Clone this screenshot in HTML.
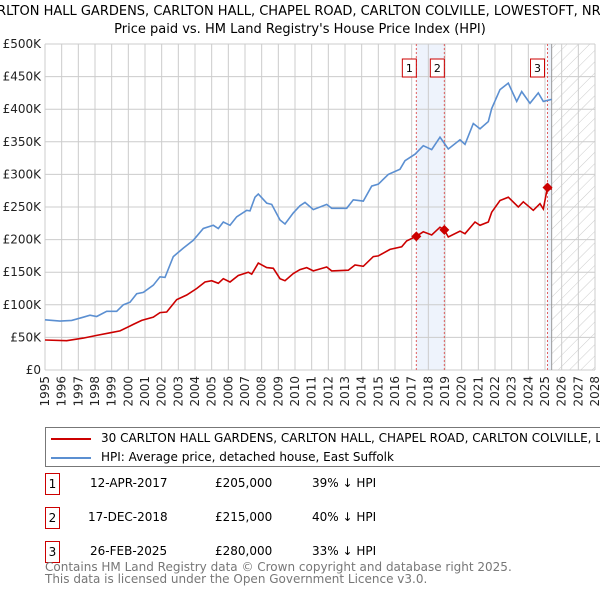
<!DOCTYPE html>
<html><head><meta charset="utf-8"><style>
body{margin:0;background:#fff;font-family:"Liberation Sans","DejaVu Sans",sans-serif;}
#wrap{position:relative;width:600px;height:590px;overflow:hidden;}
.t div{white-space:nowrap;}
</style></head><body>
<div id="wrap">
<svg id="svg" width="600" height="590" xmlns="http://www.w3.org/2000/svg" font-family="DejaVu Sans, sans-serif">
<text x="300" y="15" text-anchor="middle" font-size="13" fill="#000">30, CARLTON HALL GARDENS, CARLTON HALL, CHAPEL ROAD, CARLTON COLVILLE, LOWESTOFT, NR33 8BL</text>
<text x="300" y="33" text-anchor="middle" font-size="13" fill="#000">Price paid vs. HM Land Registry's House Price Index (HPI)</text>
<g id="grid"></g><g id="marks"></g><g id="axes"></g>
</svg>
<div style="position:absolute;left:45px;top:427px;width:560px;height:40px;border:1px solid #777;box-sizing:border-box;font-size:12px;font-family:'DejaVu Sans',sans-serif;overflow:hidden;">
 <div style="position:absolute;left:5px;top:3px;white-space:nowrap;"><span style="display:inline-block;width:40px;height:2px;background:#cc0000;vertical-align:middle;margin-right:10px"></span>30 CARLTON HALL GARDENS, CARLTON HALL, CHAPEL ROAD, CARLTON COLVILLE, LOWESTOFT, NR33 8BL</div>
 <div style="position:absolute;left:5px;top:22px;white-space:nowrap;"><span style="display:inline-block;width:40px;height:2px;background:#5b8fd1;vertical-align:middle;margin-right:10px"></span>HPI: Average price, detached house, East Suffolk</div>
</div>
<div class="t" style="position:absolute;left:0;top:0;font-size:12px;font-family:'DejaVu Sans',sans-serif;">
 <div>
  <div style="position:absolute;left:45px;top:473px;width:13px;height:20px;border:1px solid #cc0000;text-align:center;line-height:20px">1</div>
  <div style="position:absolute;left:90px;top:476px">12-APR-2017</div><div style="position:absolute;left:215px;top:476px">£205,000</div><div style="position:absolute;left:312px;top:476px">39% ↓ HPI</div>
 </div>
 <div>
  <div style="position:absolute;left:45px;top:507px;width:13px;height:20px;border:1px solid #cc0000;text-align:center;line-height:20px">2</div>
  <div style="position:absolute;left:88px;top:510px">17-DEC-2018</div><div style="position:absolute;left:215px;top:510px">£215,000</div><div style="position:absolute;left:312px;top:510px">40% ↓ HPI</div>
 </div>
 <div>
  <div style="position:absolute;left:45px;top:541px;width:13px;height:20px;border:1px solid #cc0000;text-align:center;line-height:20px">3</div>
  <div style="position:absolute;left:90px;top:544px">26-FEB-2025</div><div style="position:absolute;left:215px;top:544px">£280,000</div><div style="position:absolute;left:312px;top:544px">33% ↓ HPI</div>
 </div>
 <div style="position:absolute;left:45px;top:561px;color:#777;line-height:12px;white-space:nowrap">Contains HM Land Registry data © Crown copyright and database right 2025.<br>This data is licensed under the Open Government Licence v3.0.</div>
</div>
</div>
<script>
const yTicks=[0,50,100,150,200,250,300,350,400,450,500];
const yTickLabels=["£0","£50K","£100K","£150K","£200K","£250K","£300K","£350K","£400K","£450K","£500K"];
const xTicks=[1995,1996,1997,1998,1999,2000,2001,2002,2003,2004,2005,2006,2007,2008,2009,2010,2011,2012,2013,2014,2015,2016,2017,2018,2019,2020,2021,2022,2023,2024,2025,2026,2027,2028];
const hpiYears=[1995.0,1995.9,1996.6,1997.3,1997.7,1998.1,1998.7,1999.3,1999.7,2000.1,2000.5,2000.9,2001.5,2001.9,2002.2,2002.7,2003.3,2003.9,2004.5,2005.1,2005.4,2005.7,2006.1,2006.5,2007.1,2007.3,2007.6,2007.8,2008.3,2008.6,2009.1,2009.4,2009.9,2010.3,2010.6,2011.1,2011.9,2012.2,2013.1,2013.5,2014.1,2014.6,2015.0,2015.6,2016.3,2016.6,2017.2,2017.7,2018.2,2018.7,2019.2,2019.9,2020.2,2020.7,2021.1,2021.6,2021.8,2022.3,2022.8,2023.3,2023.6,2024.1,2024.6,2024.9,2025.4];
const hpiValues=[77,75,76,81,84,82,90,90,100,104,117,119,130,143,142,174,187,199,217,222,217,227,222,235,245,244,265,270,256,254,230,224,241,252,257,246,254,248,248,261,259,282,285,300,308,321,331,344,338,357,339,353,346,378,370,381,401,430,440,412,427,409,425,412,415];
const ppYears=[1995.0,1996.3,1997.3,1998.1,1998.9,1999.5,2000.3,2000.8,2001.5,2001.9,2002.3,2002.9,2003.5,2004.1,2004.6,2005.0,2005.4,2005.7,2006.1,2006.6,2007.2,2007.4,2007.8,2008.3,2008.7,2009.1,2009.4,2009.9,2010.3,2010.7,2011.1,2011.9,2012.2,2013.2,2013.6,2014.1,2014.7,2015.0,2015.7,2016.4,2016.7,2017.28,2017.7,2018.2,2018.7,2018.96,2019.2,2019.9,2020.2,2020.8,2021.1,2021.6,2021.8,2022.3,2022.8,2023.4,2023.7,2024.3,2024.7,2024.9,2025.15,2025.4];
const ppValues=[46,45,49,53,57,60,70,76,81,88,89,108,115,125,135,137,133,140,135,145,150,147,164,157,156,140,137,148,154,157,152,158,152,153,161,159,174,175,185,189,198,205,212,207,219,215,204,213,209,227,222,227,242,260,265,250,258,245,255,247,280,277];
const saleLabels=["1","2","3"];
const saleYears=[2017.28,2018.96,2025.15];
const saleValues=[205,215,280];
const NS="http://www.w3.org/2000/svg";
const X0=45,X1=595,Y0=370,Y1=44;
const xs=y=>X0+(y-1995)/33*(X1-X0);
const ys=v=>Y0-v/500*(Y0-Y1);
function el(t,a,p){const e=document.createElementNS(NS,t);for(const k in a)e.setAttribute(k,a[k]);p.appendChild(e);return e;}
const grid=document.getElementById('grid'),marks=document.getElementById('marks'),axes=document.getElementById('axes');
let band=el('rect',{x:xs(saleYears[0]),y:Y1,width:xs(saleYears[1])-xs(saleYears[0]),height:Y0-Y1,fill:'#eef3fc'},grid);

let band2=el('rect',{x:xs(saleYears[2]),y:Y1,width:xs(2025.4)-xs(saleYears[2]),height:Y0-Y1,fill:'#eef3fc'},grid);

const defs=el('defs',{},grid);
const pat=el('pattern',{id:'hatch',width:8,height:8,patternUnits:'userSpaceOnUse',patternTransform:'rotate(45)'},defs);
el('line',{x1:0,y1:0,x2:0,y2:8,stroke:'#ccc','stroke-width':1},pat);
let hr=el('rect',{x:xs(2025.4),y:Y1,width:X1-xs(2025.4),height:Y0-Y1,fill:'url(#hatch)'},grid);

yTicks.forEach((v,i)=>{
 let l=el('line',{x1:X0,x2:X1,y1:ys(v),y2:ys(v),stroke:'#cccccc','stroke-width':1},grid);
 
 let t=el('text',{x:X0-4,y:ys(v)+4,'text-anchor':'end','font-size':12,fill:'#222'},axes);t.textContent=yTickLabels[i];
 
});
xTicks.forEach(y=>{
 let l=el('line',{x1:xs(y),x2:xs(y),y1:Y1,y2:Y0,stroke:'#cccccc','stroke-width':1},grid);
 
 let t=el('text',{x:0,y:0,'text-anchor':'end','font-size':12,fill:'#222',transform:`translate(${xs(y)+4},376) rotate(-90)`},axes);t.textContent=y;
 
});
let vl=el('line',{x1:xs(2025.4),x2:xs(2025.4),y1:Y1,y2:Y0,stroke:'#999','stroke-width':1},grid);

saleYears.forEach((y,i)=>{
 let l=el('line',{x1:xs(y),x2:xs(y),y1:Y1,y2:Y0,stroke:'#e06060','stroke-width':1,'stroke-dasharray':'2,2'},grid);
 
});
function path(xa,va,c,name){
 const d=xa.map((x,i)=>(i?'L':'M')+xs(x).toFixed(1)+','+ys(va[i]).toFixed(1)).join('');
 const p=el('path',{d:d,fill:'none',stroke:c,'stroke-width':1.6},marks);
 
}
path(hpiYears,hpiValues,'#5b8fd1','hpi-line');
path(ppYears,ppValues,'#cc0000','price-paid-line');
saleYears.forEach((y,i)=>{
 const cx=xs(y),cy=ys(saleValues[i]);
 let pt=el('path',{d:`M${cx},${cy-5}L${cx+5},${cy}L${cx},${cy+5}L${cx-5},${cy}Z`,fill:'#cc0000'},marks);
 
 const bx=(i==2?cx-10:cx-7);
 let r=el('rect',{x:bx-7,y:59,width:14,height:18,fill:'#fff',stroke:'#cc0000','stroke-width':1},marks);
 
 let t=el('text',{x:bx,y:72,'text-anchor':'middle','font-size':11,fill:'#000'},marks);t.textContent=saleLabels[i];
 
});
</script>
</body></html>
